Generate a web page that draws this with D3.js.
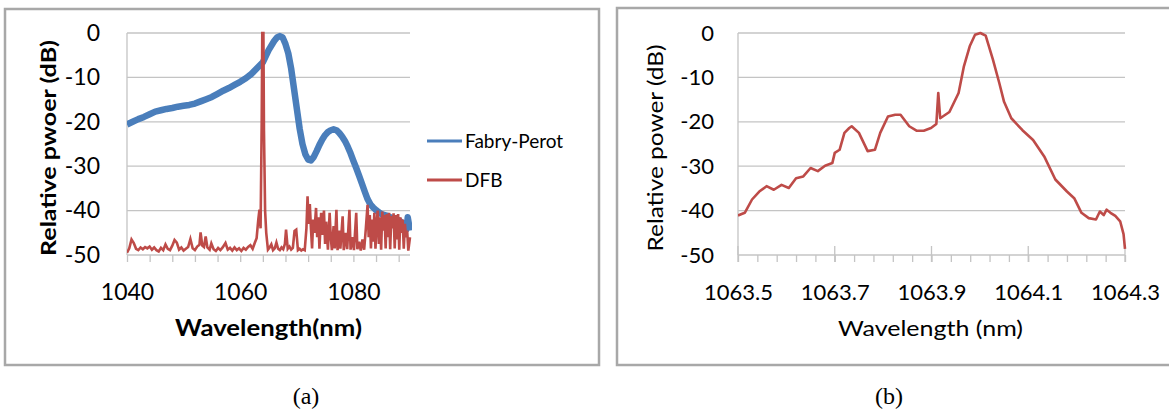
<!DOCTYPE html>
<html><head><meta charset="utf-8">
<script src="https://cdn.jsdelivr.net/npm/d3@7"></script>
<style>body{margin:0;background:#fff} svg{display:block}</style>
</head><body>
<svg id="c" width="1169" height="410"></svg>
<script>
// ---------- Data ----------
// (a) Fabry-Perot spectrum (nm, dB)
const fpWl = [1040,1041,1042,1043,1044,1045,1046,1047,1048,1049,1050,1051,1052,1053,1054,1055,1056,1057,1058,1059,1060,1061,1062,1063,1064,1065,1066,1066.5,1067,1067.5,1068,1068.5,1069,1069.5,1070,1070.5,1071,1071.5,1072,1072.5,1073,1073.5,1074,1074.5,1075,1075.5,1076,1076.5,1077,1077.5,1078,1078.5,1079,1079.5,1080,1080.5,1081,1081.5,1082,1082.5,1083,1083.5,1084,1084.5,1085,1085.5,1086,1086.5,1087,1087.5,1088,1088.5,1089,1089.4,1089.6,1089.8,1090];
const fpDb = [-20.6,-20.0,-19.4,-18.9,-18.3,-17.7,-17.4,-17.1,-16.9,-16.6,-16.4,-16.2,-15.9,-15.4,-14.9,-14.4,-13.7,-13.0,-12.4,-11.7,-11.0,-10.2,-9.2,-7.9,-6.6,-3.9,-1.8,-1.0,-0.7,-1.0,-2.5,-4.6,-8.0,-12.5,-17.0,-21.5,-25.0,-27.3,-28.5,-28.7,-27.9,-26.6,-25.2,-24.0,-23.0,-22.3,-21.9,-21.7,-21.9,-22.5,-23.3,-24.3,-25.6,-27.1,-28.8,-30.4,-32.1,-33.9,-35.7,-37.4,-38.6,-39.3,-39.9,-40.4,-40.8,-41.0,-41.2,-41.5,-41.8,-42.0,-42.2,-42.6,-43.2,-44.2,-41.5,-43.0,-44.5];

// (a) DFB spectrum (nm, dB)
const dfbWl = [1040.0,1040.4,1040.8,1041.2,1041.6,1042.0,1042.4,1042.8,1043.2,1043.6,1044.0,1044.4,1044.8,1045.2,1045.6,1046.0,1046.4,1046.8,1047.2,1047.6,1048.0,1048.4,1048.8,1049.2,1049.6,1050.0,1050.4,1050.8,1051.2,1051.6,1052.0,1052.4,1052.8,1053.0,1053.3,1053.6,1053.9,1054.2,1054.6,1054.9,1055.3,1055.7,1056.1,1056.5,1056.9,1057.4,1057.8,1058.2,1058.6,1059.0,1059.4,1059.8,1060.2,1060.6,1061.0,1061.4,1061.8,1062.2,1062.6,1062.9,1063.2,1063.4,1063.6,1063.8,1063.9,1064.1,1064.2,1064.4,1064.6,1064.9,1065.2,1065.5,1065.8,1066.1,1066.4,1066.7,1067.0,1067.3,1067.6,1067.9,1068.1,1068.4,1068.7,1069.0,1069.3,1069.6,1069.9,1070.2,1070.5,1070.8,1071.1,1071.4,1071.7,1071.9,1072.1,1072.3,1072.5,1072.7,1072.9,1073.1,1073.4,1073.6,1073.8,1074.0,1074.3,1074.5,1074.8,1075.0,1075.2,1075.5,1075.8,1076.0,1076.2,1076.5,1076.7,1077.0,1077.2,1077.5,1077.7,1078.1,1078.3,1078.6,1078.9,1079.3,1079.5,1079.8,1080.1,1080.5,1080.7,1081.0,1081.3,1081.6,1081.9,1082.2,1082.5,1082.7,1082.9,1083.1,1083.3,1083.5,1083.7,1083.9,1084.1,1084.3,1084.5,1084.7,1084.9,1085.1,1085.3,1085.5,1085.7,1085.9,1086.1,1086.3,1086.5,1086.7,1086.9,1087.1,1087.3,1087.5,1087.7,1087.9,1088.1,1088.3,1088.5,1088.7,1088.9,1089.1,1089.3,1089.5,1089.7,1090.0];
const dfbDb = [-49.5,-48.5,-46.5,-47.3,-48.6,-48.9,-48.3,-48.7,-48.2,-48.5,-48.1,-48.8,-48.3,-48.9,-49.2,-48.4,-48.9,-47.6,-48.6,-48.9,-47.9,-46.6,-47.2,-48.8,-48.3,-49.0,-48.6,-48.2,-46.4,-48.5,-48.9,-48.1,-47.7,-44.9,-47.9,-48.2,-45.8,-48.3,-48.8,-47.4,-48.7,-49.1,-48.4,-48.9,-48.3,-47.3,-48.8,-48.4,-49.0,-48.3,-48.9,-48.5,-49.1,-48.4,-48.8,-48.2,-47.8,-48.6,-47.2,-46.2,-42.0,-39.8,-44.0,-20.0,0.0,0.0,-22.0,-40.0,-45.0,-48.8,-48.3,-47.6,-48.9,-48.5,-47.2,-48.6,-48.9,-48.3,-48.7,-47.5,-44.3,-48.6,-48.1,-48.8,-48.4,-44.6,-44.3,-48.9,-48.6,-49.0,-48.7,-48.9,-44.0,-36.8,-43.0,-38.5,-44.0,-48.5,-42.0,-45.0,-39.4,-46.0,-41.5,-48.6,-40.5,-45.5,-40.0,-47.5,-42.5,-48.8,-40.5,-46.0,-48.9,-43.5,-48.5,-39.8,-48.9,-44.5,-48.6,-41.3,-48.9,-45.0,-48.7,-39.8,-48.8,-46.0,-48.9,-40.5,-48.7,-47.0,-49.0,-46.5,-48.8,-44.0,-38.7,-46.0,-41.0,-48.5,-42.0,-47.0,-40.5,-48.6,-43.0,-40.0,-47.5,-41.5,-48.8,-40.2,-44.5,-41.0,-48.5,-40.8,-46.0,-40.5,-48.7,-41.2,-44.0,-40.6,-48.5,-41.0,-46.5,-40.8,-48.8,-41.5,-45.0,-42.0,-48.6,-43.0,-46.0,-44.5,-49.0,-46.0];

// (b) DFB high-resolution spectrum (nm, dB)
const dfbHrWl = [1063.500,1063.514,1063.529,1063.544,1063.559,1063.574,1063.590,1063.605,1063.620,1063.635,1063.650,1063.665,1063.680,1063.695,1063.700,1063.710,1063.720,1063.730,1063.735,1063.750,1063.768,1063.783,1063.794,1063.810,1063.825,1063.836,1063.854,1063.869,1063.884,1063.899,1063.910,1063.914,1063.918,1063.937,1063.956,1063.967,1063.979,1063.990,1064.001,1064.012,1064.027,1064.040,1064.050,1064.065,1064.088,1064.110,1064.133,1064.156,1064.180,1064.195,1064.210,1064.225,1064.240,1064.248,1064.256,1064.262,1064.270,1064.280,1064.290,1064.297,1064.300];
const dfbHrDb = [-41.1,-40.5,-37.5,-35.7,-34.5,-35.3,-34.2,-34.9,-32.7,-32.3,-30.4,-31.1,-29.9,-29.3,-27.0,-26.3,-22.5,-21.4,-21.0,-22.5,-26.6,-26.3,-22.5,-18.8,-18.4,-18.4,-21.0,-22.0,-22.0,-21.4,-20.5,-13.5,-19.2,-17.8,-13.5,-7.5,-3.0,-0.4,0.0,-0.6,-6.0,-11.2,-15.5,-19.2,-21.9,-24.1,-27.8,-33.0,-35.7,-37.2,-40.5,-41.7,-42.0,-40.2,-41.0,-39.8,-40.5,-41.2,-42.4,-45.3,-48.6];

// Tick labels
const yTicks = [0,-10,-20,-30,-40,-50];
const xTicksA = [1040,1060,1080];
const xTicksB = [1063.5,1063.7,1063.9,1064.1,1064.3];
const seriesNames = ["Fabry-Perot","DFB"];

// ---------- Drawing ----------
const BLUE = "#4a7ebb", RED = "#be4b48", GRID = "#c4c4c4";
const FONT = "Lato, 'Open Sans', sans-serif";
const svg = d3.select("#c");

function frame(x, y, w, h) {
  svg.append("rect").attr("x", x).attr("y", y).attr("width", w).attr("height", h)
    .attr("fill", "#fff").attr("stroke", "#a8a8a8").attr("stroke-width", 2.5);
}
frame(5, 9, 594, 356);
frame(617, 8, 560, 357);

function panel(opts) {
  const { x, y, xTicks, minor, majorCross, yPad, tickFont, bold, yTitle, xTitle, yTitleX, yTitleLen, xTitleLen } = opts;
  const g = svg.append("g");
  const [x0, x1] = x.range();
  const [yb, yt] = y.range();
  g.append("g").selectAll("line").data(yTicks.filter(d => d !== -50)).join("line")
    .attr("x1", x0).attr("x2", x1).attr("y1", d => y(d)).attr("y2", d => y(d))
    .attr("stroke", GRID).attr("stroke-width", 1.3);
  g.append("line").attr("x1", x0).attr("x2", x0).attr("y1", yt).attr("y2", yb)
    .attr("stroke", GRID).attr("stroke-width", 1.3);
  g.append("line").attr("x1", x0).attr("x2", x1).attr("y1", yb).attr("y2", yb)
    .attr("stroke", GRID).attr("stroke-width", 1.3);
  const mt = g.append("g").attr("transform", `translate(0,${yb})`)
    .call(d3.axisBottom(x).tickValues(minor).tickFormat("").tickSize(7));
  mt.select(".domain").remove();
  mt.selectAll("line").attr("stroke", GRID).attr("stroke-width", 1.3);
  if (majorCross) {
    g.append("g").selectAll("line").data(xTicks).join("line")
      .attr("x1", d => x(d)).attr("x2", d => x(d)).attr("y1", yb - 9).attr("y2", yb + 7)
      .attr("stroke", GRID).attr("stroke-width", 1.3);
  }
  const ya = g.append("g").attr("transform", `translate(${x0},0)`)
    .call(d3.axisLeft(y).tickValues(yTicks).tickSize(0).tickPadding(yPad).tickFormat(d => d === 0 ? "0" : "-" + Math.abs(d)));
  ya.select(".domain").remove();
  ya.selectAll("text").attr("font-family", FONT).attr("font-size", tickFont).attr("fill", "#000");
  const xa = g.append("g").attr("transform", `translate(0,${yb})`)
    .call(d3.axisBottom(x).tickValues(xTicks).tickSize(0).tickFormat(d => String(d)));
  xa.select(".domain").remove();
  xa.selectAll("text").attr("dy", null).attr("y", 45)
    .attr("font-family", FONT).attr("font-size", tickFont).attr("fill", "#000");
  g.append("text").attr("transform", `translate(${yTitleX},${(yt + yb) / 2 + 4}) rotate(-90)`)
    .attr("text-anchor", "middle").attr("dominant-baseline", "central")
    .attr("font-family", FONT).attr("font-size", 21).attr("font-weight", bold ? 700 : 400)
    .attr("textLength", yTitleLen).attr("lengthAdjust", "spacingAndGlyphs")
    .text(yTitle);
  g.append("text").attr("x", (x0 + x1) / 2 + (opts.xTitleShift || 0)).attr("y", 336)
    .attr("text-anchor", "middle")
    .attr("font-family", FONT).attr("font-size", 22).attr("font-weight", bold ? 700 : 400)
    .attr("textLength", xTitleLen).attr("lengthAdjust", "spacingAndGlyphs")
    .text(xTitle);
  const id = "clip" + Math.round(x0);
  svg.append("clipPath").attr("id", id).append("rect")
    .attr("x", x0).attr("y", yt - 4).attr("width", x1 - x0 + 2).attr("height", yb - yt + 4);
  return id;
}

// (a)
const xA = d3.scaleLinear([1040, 1090], [127, 410]);
const yA = d3.scaleLinear([-50, 0], [255, 33]);
const clipA = panel({ x: xA, y: yA, xTicks: xTicksA, minor: d3.range(1040, 1090, 4), majorCross: false,
  yPad: 27, tickFont: 23, bold: true, yTitle: "Relative pwoer (dB)", xTitle: "Wavelength(nm)",
  yTitleX: 47, yTitleLen: 216, xTitleLen: 187, xTitleShift: 0 });

const lineA = d3.line().x(d => xA(d[0])).y(d => yA(d[1]));
svg.append("path").datum(d3.zip(fpWl, fpDb)).attr("d", lineA)
  .attr("clip-path", `url(#${clipA})`)
  .attr("fill", "none").attr("stroke", BLUE).attr("stroke-width", 6.5).attr("stroke-linejoin", "round");
svg.append("path").datum(d3.zip(dfbWl, dfbDb)).attr("d", lineA)
  .attr("clip-path", `url(#${clipA})`)
  .attr("fill", "none").attr("stroke", RED).attr("stroke-width", 2.6).attr("stroke-linejoin", "miter");

// legend
const leg = svg.append("g");
seriesNames.forEach((n, i) => {
  const yy = 141 + i * 39;
  leg.append("line").attr("x1", 427).attr("x2", 462).attr("y1", yy).attr("y2", yy)
    .attr("stroke", i === 0 ? BLUE : RED).attr("stroke-width", 3);
  leg.append("text").attr("x", 465).attr("y", yy + 7).attr("font-family", FONT).attr("font-size", 19)
    .attr("fill", "#000").text(n);
});

// (b)
const xB = d3.scaleLinear([1063.5, 1064.3], [738, 1125]);
const yB = d3.scaleLinear([-50, 0], [255, 33]);
const clipB = panel({ x: xB, y: yB, xTicks: xTicksB, minor: d3.range(1063.5, 1064.31, 0.04), majorCross: true,
  yPad: 24, tickFont: 22, bold: false, yTitle: "Relative power (dB)", xTitle: "Wavelength (nm)",
  yTitleX: 654, yTitleLen: 207, xTitleLen: 185, xTitleShift: -1 });
const lineB = d3.line().x(d => xB(d[0])).y(d => yB(d[1]));
svg.append("path").datum(d3.zip(dfbHrWl, dfbHrDb)).attr("d", lineB)
  .attr("clip-path", `url(#${clipB})`)
  .attr("fill", "none").attr("stroke", RED).attr("stroke-width", 2.6).attr("stroke-linejoin", "round");

// captions
const SERIF = "'Liberation Serif', 'Times New Roman', serif";
svg.append("text").attr("x", 306).attr("y", 404).attr("text-anchor", "middle")
  .attr("font-family", SERIF).attr("font-size", 24).text("(a)");
svg.append("text").attr("x", 889).attr("y", 404).attr("text-anchor", "middle")
  .attr("font-family", SERIF).attr("font-size", 24).text("(b)");
</script>
</body></html>
